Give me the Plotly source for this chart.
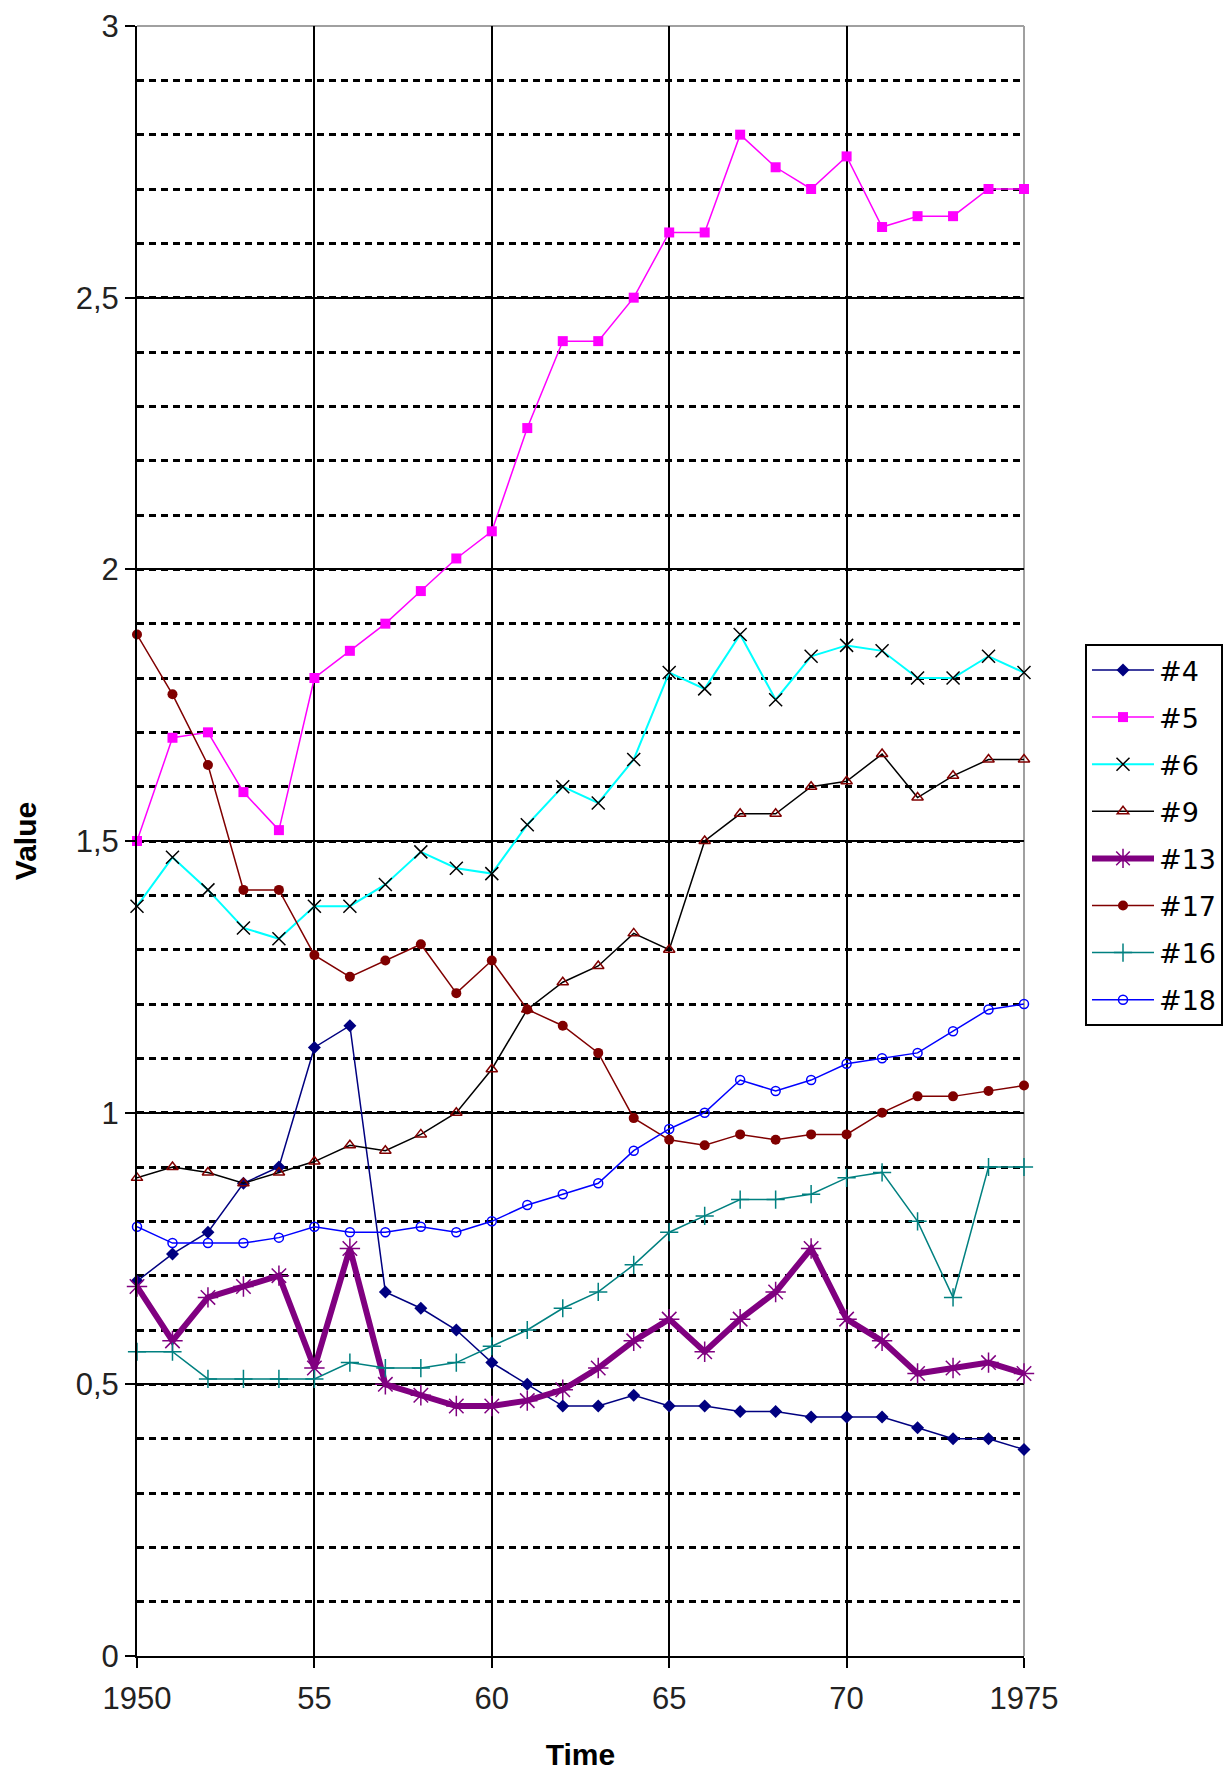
import plotly.graph_objects as go

# Years on the horizontal axis
years = list(range(1950, 1976))

# Series values, one per year 1950..1975
s4 = [0.69, 0.74, 0.78, 0.87, 0.90, 1.12, 1.16, 0.67, 0.64, 0.60, 0.54, 0.50, 0.46,
      0.46, 0.48, 0.46, 0.46, 0.45, 0.45, 0.44, 0.44, 0.44, 0.42, 0.40, 0.40, 0.38]
s5 = [1.50, 1.69, 1.70, 1.59, 1.52, 1.80, 1.85, 1.90, 1.96, 2.02, 2.07, 2.26, 2.42,
      2.42, 2.50, 2.62, 2.62, 2.80, 2.74, 2.70, 2.76, 2.63, 2.65, 2.65, 2.70, 2.70]
s6 = [1.38, 1.47, 1.41, 1.34, 1.32, 1.38, 1.38, 1.42, 1.48, 1.45, 1.44, 1.53, 1.60,
      1.57, 1.65, 1.81, 1.78, 1.88, 1.76, 1.84, 1.86, 1.85, 1.80, 1.80, 1.84, 1.81]
s9 = [0.88, 0.90, 0.89, 0.87, 0.89, 0.91, 0.94, 0.93, 0.96, 1.00, 1.08, 1.19, 1.24,
      1.27, 1.33, 1.30, 1.50, 1.55, 1.55, 1.60, 1.61, 1.66, 1.58, 1.62, 1.65, 1.65]
s13 = [0.68, 0.58, 0.66, 0.68, 0.70, 0.53, 0.75, 0.50, 0.48, 0.46, 0.46, 0.47, 0.49,
       0.53, 0.58, 0.62, 0.56, 0.62, 0.67, 0.75, 0.62, 0.58, 0.52, 0.53, 0.54, 0.52]
s17 = [1.88, 1.77, 1.64, 1.41, 1.41, 1.29, 1.25, 1.28, 1.31, 1.22, 1.28, 1.19, 1.16,
       1.11, 0.99, 0.95, 0.94, 0.96, 0.95, 0.96, 0.96, 1.00, 1.03, 1.03, 1.04, 1.05]
s16 = [0.56, 0.56, 0.51, 0.51, 0.51, 0.51, 0.54, 0.53, 0.53, 0.54, 0.57, 0.60, 0.64,
       0.67, 0.72, 0.78, 0.81, 0.84, 0.84, 0.85, 0.88, 0.89, 0.80, 0.66, 0.90, 0.90]
s18 = [0.79, 0.76, 0.76, 0.76, 0.77, 0.79, 0.78, 0.78, 0.79, 0.78, 0.80, 0.83, 0.85,
       0.87, 0.93, 0.97, 1.00, 1.06, 1.04, 1.06, 1.09, 1.10, 1.11, 1.15, 1.19, 1.20]

# Tick labels
x_tick_vals = [1950, 1955, 1960, 1965, 1970, 1975]
x_tick_text = ["1950", "55", "60", "65", "70", "1975"]
y_tick_vals = [0, 0.5, 1, 1.5, 2, 2.5, 3]
y_tick_text = ["0", "0,5", "1", "1,5", "2", "2,5", "3"]

FONT = "Liberation Sans, Arial, sans-serif"
LEGEND_FONT = "DejaVu Sans, Liberation Sans, sans-serif"

series = [
    # name, values, line color, line width, marker symbol, marker color, marker size, marker line width
    ("#4", s4, "#000080", 1.5, "diamond", "#000080", 10, 0),
    ("#5", s5, "#FF00FF", 1.5, "square", "#FF00FF", 10, 0),
    ("#6", s6, "#00FFFF", 2, "x-thin", "#000000", 13, 1.5),
    ("#9", s9, "#000000", 1.5, "triangle-up-open", "#800000", 10, 1.5),
    ("#13", s13, "#800080", 6, "asterisk-open", "#800080", 17, 1.5),
    ("#17", s17, "#800000", 1.5, "circle", "#800000", 10, 0),
    ("#16", s16, "#008080", 1.5, "cross-thin", "#008080", 13, 1.5),
    ("#18", s18, "#0000FF", 1.5, "circle-open", "#0000FF", 9, 1.5),
]

fig = go.Figure()
for name, vals, lc, lw, sym, mc, ms, mlw in series:
    fig.add_trace(go.Scatter(
        x=years, y=vals, name=name, legendgroup=name,
        mode="lines+markers", cliponaxis=False,
        line=dict(color=lc, width=lw),
        marker=dict(symbol=sym, color=mc, size=ms,
                    line=dict(color=mc, width=mlw)),
    ))

fig.update_layout(
    width=1231, height=1771,
    margin=dict(l=137, r=207, t=26, b=115, autoexpand=False),
    paper_bgcolor="white", plot_bgcolor="white",
    font=dict(family=FONT, size=30, color="#000000"),
    showlegend=True,
    legend=dict(
        xref="container", yref="container",
        x=0.8814, y=0.6364, xanchor="left", yanchor="top",
        bordercolor="#000000", borderwidth=2, bgcolor="white",
        font=dict(family=LEGEND_FONT, size=27, color="#000000"),
        itemwidth=62, tracegroupgap=9,
    ),
    shapes=[
        # grey frame on the top and right edges of the plot area
        dict(type="line", xref="paper", yref="paper", x0=0, x1=1, y0=1, y1=1,
             line=dict(color="#A0A0A0", width=2), layer="between"),
        dict(type="line", xref="paper", yref="paper", x0=1, x1=1, y0=0, y1=1,
             line=dict(color="#A0A0A0", width=2), layer="between"),
    ],
)

fig.update_xaxes(
    range=[1950, 1975], tickvals=x_tick_vals, ticktext=x_tick_text,
    showgrid=True, gridcolor="#000000", gridwidth=1.5,
    showline=True, linecolor="#000000", linewidth=2,
    ticks="outside", ticklen=10, tickwidth=2, tickcolor="#000000",
    ticklabelstandoff=4, automargin=False,
    tickfont=dict(family=FONT, size=31, color="#222222"),
    title=dict(text="<b>Time</b>", font=dict(family=FONT, size=30), standoff=32),
    zeroline=False,
)
fig.update_yaxes(
    range=[0, 3], tickvals=y_tick_vals, ticktext=y_tick_text,
    showgrid=True, gridcolor="#000000", gridwidth=2,
    minor=dict(dtick=0.1, showgrid=True, gridcolor="#000000", gridwidth=2.5,
               griddash="7px,5px", ticks=""),
    showline=True, linecolor="#000000", linewidth=2,
    ticks="outside", ticklen=10, tickwidth=2, tickcolor="#000000",
    automargin=False,
    tickfont=dict(family=FONT, size=31, color="#222222"),
    title=dict(text="<b>Value</b>", font=dict(family=FONT, size=30), standoff=30),
    zeroline=False,
)

fig.write_html("out.html")
